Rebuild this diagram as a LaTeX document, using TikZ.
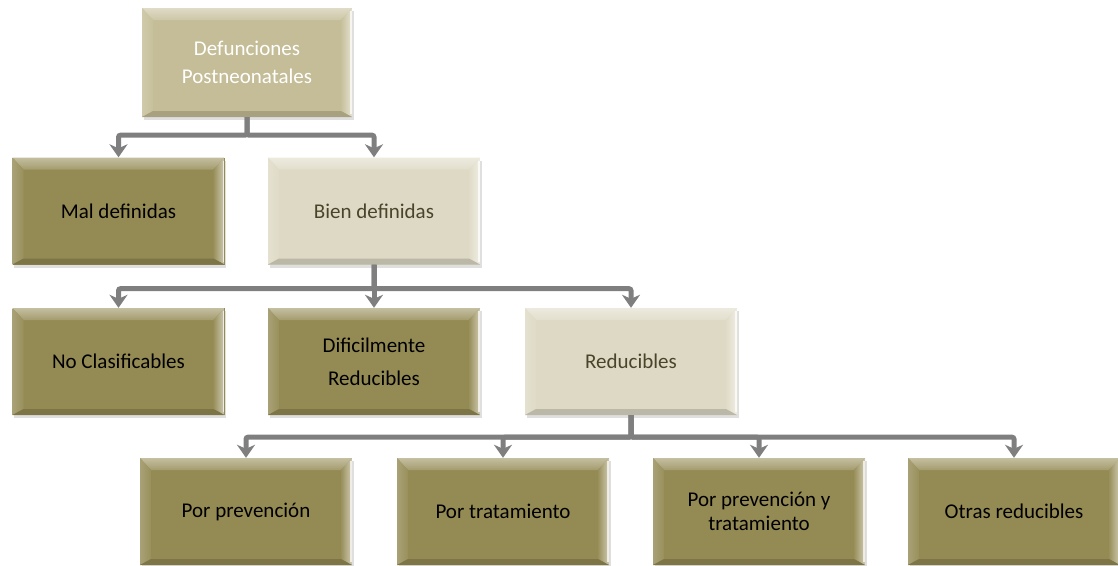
\documentclass[tikz,border=0pt]{standalone}
\usepackage{fontspec}
\setmainfont{Carlito}
\usetikzlibrary{shadows,arrows.meta}
\definecolor{oliveb}{HTML}{948A54}
\definecolor{khakib}{HTML}{C4BD97}
\definecolor{paleb}{HTML}{DDD9C4}
\definecolor{connc}{HTML}{7F7F7F}
\definecolor{darktxt}{HTML}{4A452A}
\tikzset{
  box/.style={rectangle, minimum width=212pt, minimum height=107pt, inner sep=0pt,
    align=center, font=\fontsize{21}{24}\selectfont, fill=#1,
    drop shadow={opacity=0.25, shadow xshift=1.5pt, shadow yshift=-3pt},
    path picture={
      \coordinate (nw) at (path picture bounding box.north west);
      \coordinate (ne) at (path picture bounding box.north east);
      \coordinate (sw) at (path picture bounding box.south west);
      \coordinate (se) at (path picture bounding box.south east);
      \shade[top color=#1!55!white, bottom color=#1!85!white] (nw) -- (ne) -- ([xshift=-11pt,yshift=-12pt]ne) -- ([xshift=11pt,yshift=-12pt]nw) -- cycle;
      \shade[left color=#1!80!white, right color=#1!95!white] (nw) -- ([xshift=11pt,yshift=-12pt]nw) -- ([xshift=11pt,yshift=6pt]sw) -- (sw) -- cycle;
      \shade[left color=#1!95!white, right color=#1!45!white] (ne) -- (se) -- ([xshift=-11pt,yshift=6pt]se) -- ([xshift=-11pt,yshift=-12pt]ne) -- cycle;
      \fill[#1!85!black] (sw) -- ([xshift=11pt,yshift=6pt]sw) -- ([xshift=-11pt,yshift=6pt]se) -- (se) -- cycle;
      \draw[white, opacity=0.7, line width=1.5pt] ([xshift=-1pt,yshift=-3pt]ne) -- ([xshift=-1pt,yshift=3pt]se);
    }},
  conn/.style={draw=connc, line width=5pt, rounded corners=2pt,
    -{Stealth[length=13pt, width=18pt, inset=4pt]}}
}
\begin{document}
\begin{tikzpicture}[x=1pt,y=1pt]
\useasboundingbox (0,0) rectangle (1118,-565);
\node[box=khakib, text=white, minimum width=210pt, minimum height=109pt,
  font=\fontsize{21}{28}\selectfont] (top) at (247,-62.5) {\rule{0pt}{6pt}Defunciones\\Postneonatales};
\node[box=oliveb, text=black] (mal) at (118.5,-211) {Mal definidas};
\node[box=paleb, text=darktxt] (bien) at (374,-211) {Bien definidas};
\node[box=oliveb, text=black] (nocl) at (118.5,-361.5) {No Clasificables};
\node[box=oliveb, text=black, font=\fontsize{21}{33}\selectfont] (dif) at (374,-361.5) {Dificilmente\\Reducibles};
\node[box=paleb, text=darktxt] (red) at (631,-361.5) {Reducibles};
\node[box=oliveb, text=black] (b1) at (246,-511.5) {Por prevención};
\node[box=oliveb, text=black] (b2) at (503,-511.5) {Por tratamiento};
\node[box=oliveb, text=black] (b3) at (759,-511.5) {Por prevención y\\tratamiento};
\node[box=oliveb, text=black] (b4) at (1014,-511.5) {Otras reducibles};
\draw[conn] (top.south) -- ++(0,-18) -| (mal.north);
\draw[conn] (top.south) -- ++(0,-18) -| (bien.north);
\draw[conn] (bien.south) -- ++(0,-24) -| (nocl.north);
\draw[conn] (bien.south) -- ++(0,-24) -| (dif.north);
\draw[conn] (bien.south) -- ++(0,-24) -| (red.north);
\draw[conn] (red.south) -- ++(0,-22) -| (b1.north);
\draw[conn] (red.south) -- ++(0,-22) -| (b2.north);
\draw[conn] (red.south) -- ++(0,-22) -| (b3.north);
\draw[conn] (red.south) -- ++(0,-22) -| (b4.north);
\end{tikzpicture}
\end{document}
